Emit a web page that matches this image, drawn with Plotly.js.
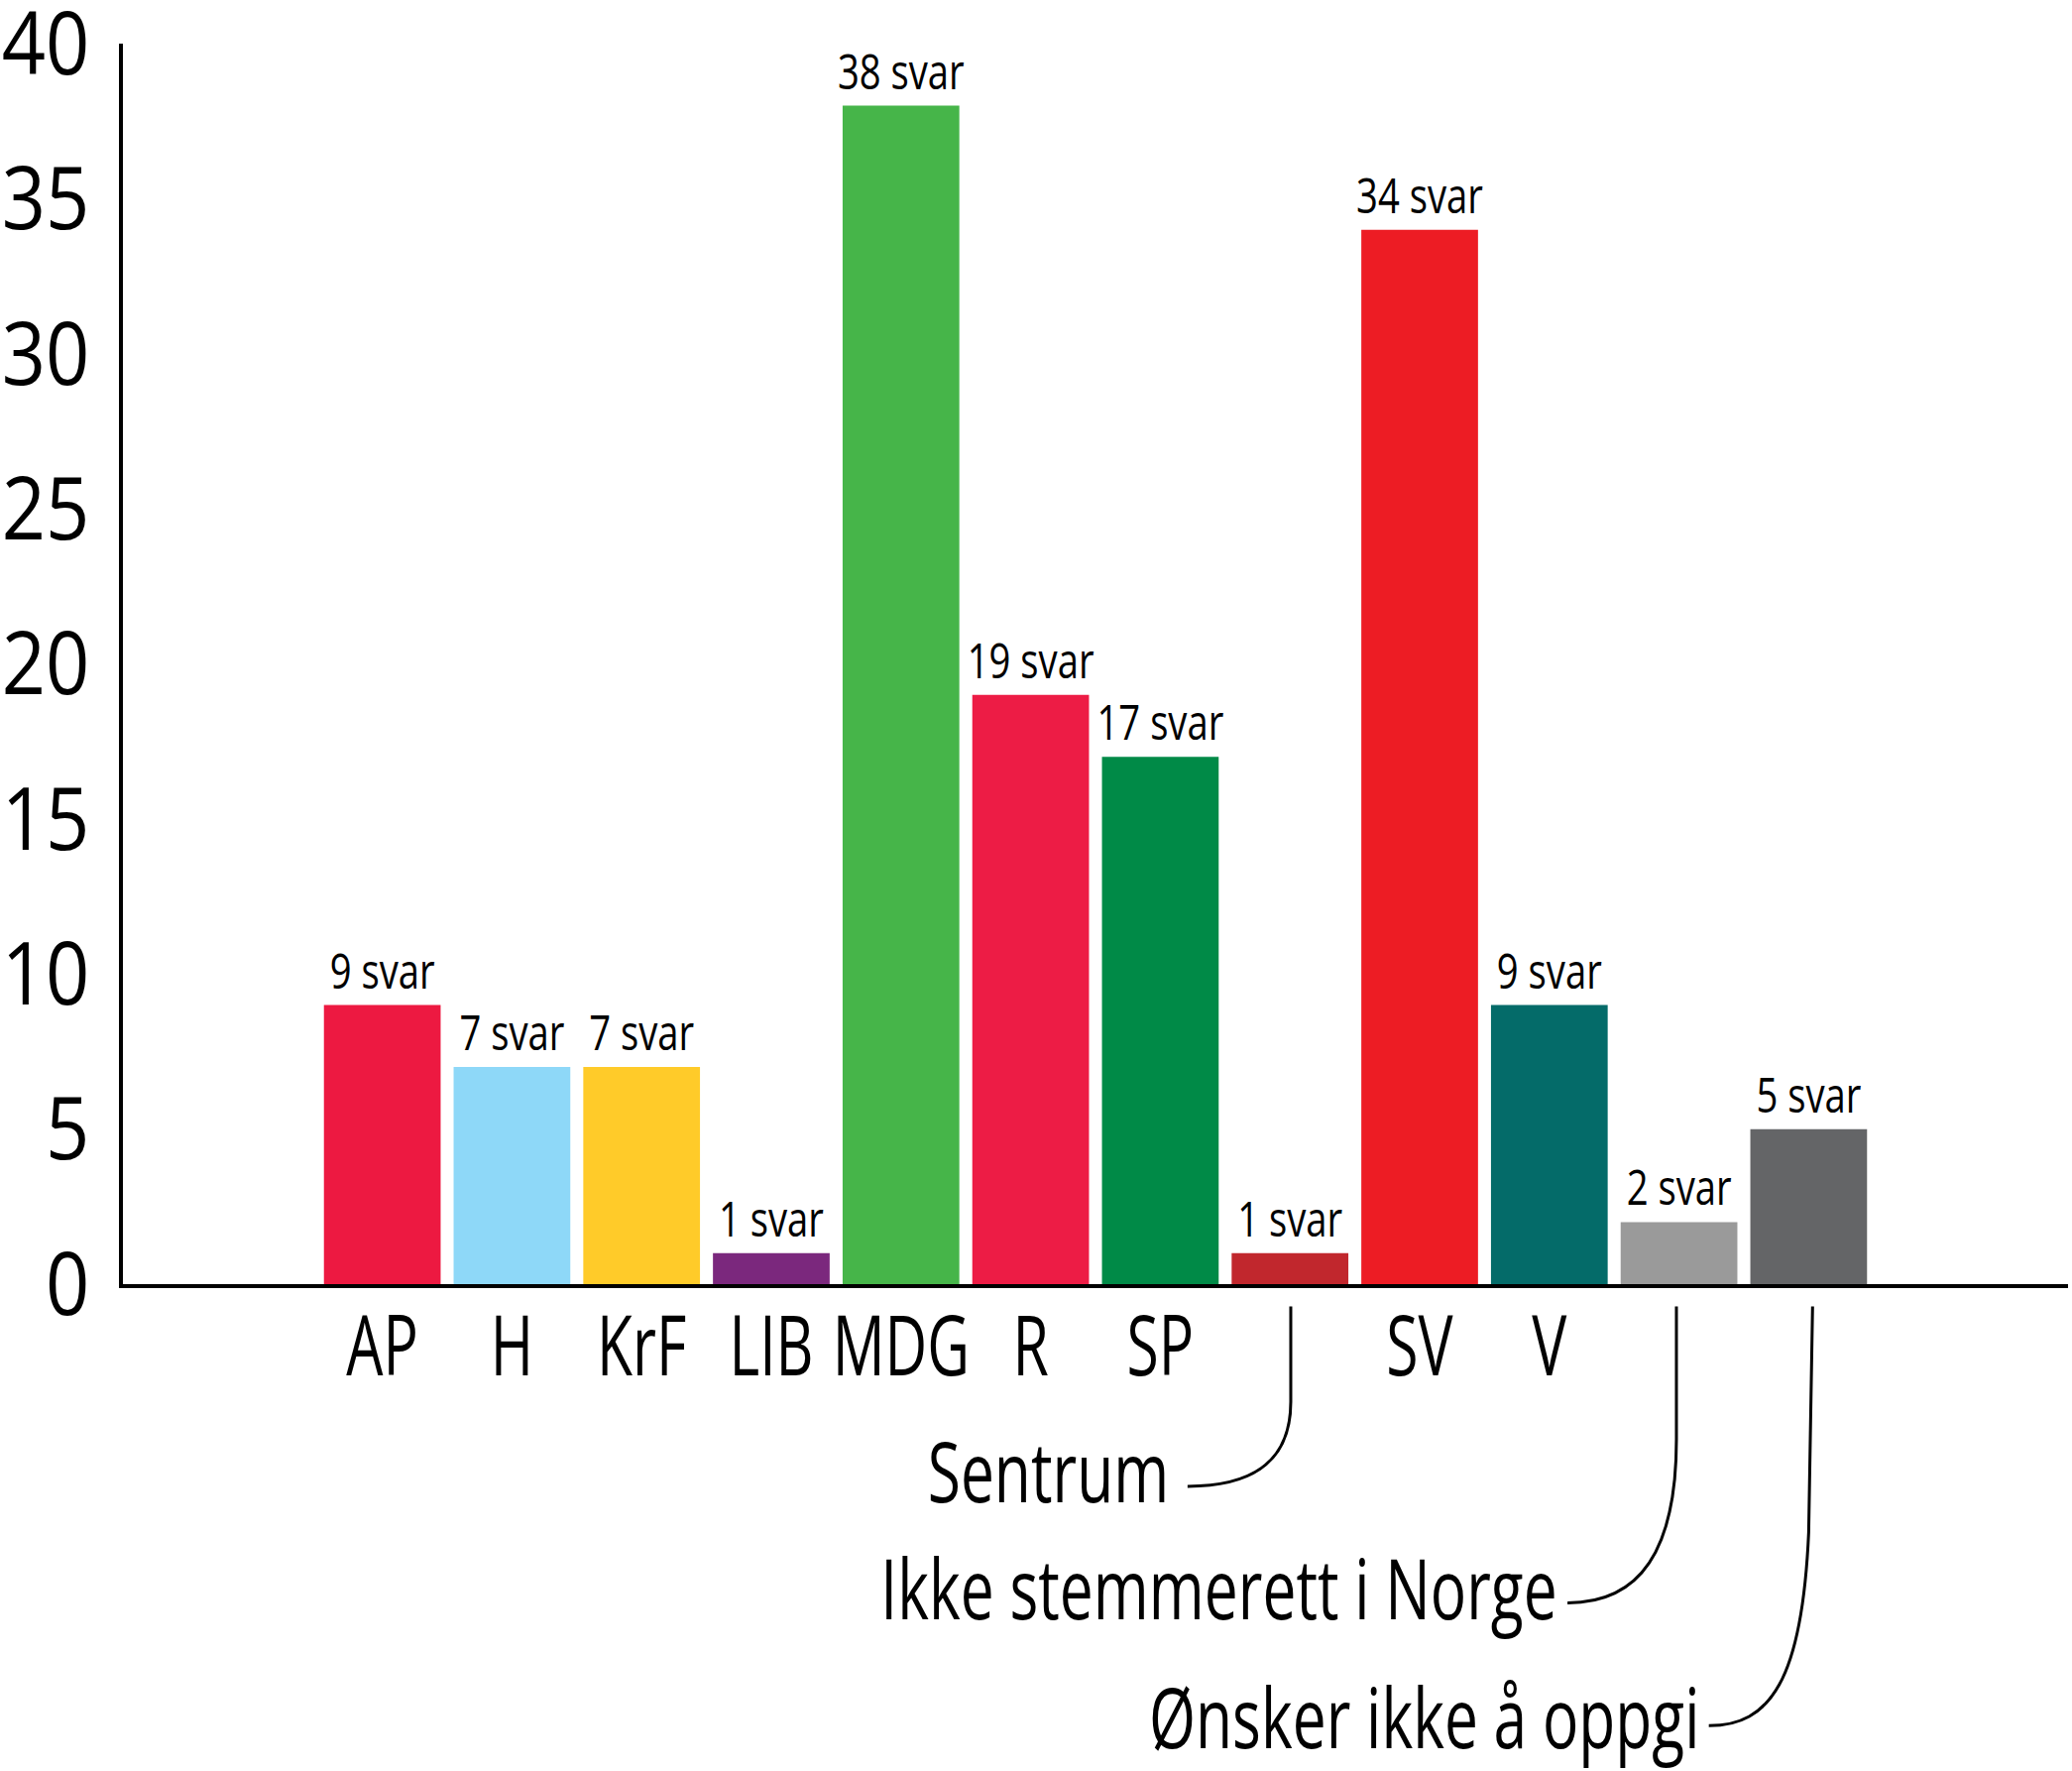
<!DOCTYPE html>
<html>
<head>
<meta charset="utf-8">
<script src="https://cdn.plot.ly/plotly-3.0.1.min.js"></script>
<style>
  body { margin: 0; background: #fff; }
  #chart { width: 2090px; height: 1786px; }
</style>
</head>
<body>
<div id="chart"></div>
<script>
const partier = ['AP', 'H', 'KrF', 'LIB', 'MDG', 'R', 'SP', 'Sentrum', 'SV', 'V',
                 'Ikke stemmerett i Norge', 'Ønsker ikke å oppgi'];
const svar = [9, 7, 7, 1, 38, 19, 17, 1, 34, 9, 2, 5];
const farger = ['#ED1941', '#8ED8F8', '#FFCB29', '#7B287D', '#46B549', '#ED1C45',
                '#008A47', '#C1272D', '#ED1C24', '#046B69', '#9A9A9A', '#646567'];
// kort etikett under stolpen, de lange får egen tekst med strek
const etiketter = ['AP', 'H', 'KrF', 'LIB', 'MDG', 'R', 'SP', '', 'SV', 'V', '', ''];
const yTicks = [0, 5, 10, 15, 20, 25, 30, 35, 40];

const font = '"Open Sans", "Noto Sans", sans-serif';

var stolper = {
    x: partier,
    y: svar,
    type: 'bar',
    marker: {color: farger},
    text: svar.map(v => v + ' svar'),
    textposition: 'outside',
    constraintext: 'none',
    textfont: {family: font, size: 49, color: '#000'},
    cliponaxis: false,
    hoverinfo: 'none'
};

// strek fra stolpen ned til den lange etiketten (x = kategori-indeks, y = paper)
const streker = [
    'M 7.006,-0.018 L 7.006,-0.095 C 7.006,-0.140 6.75,-0.163 6.21,-0.163',
    'M 9.98,-0.018 L 9.98,-0.125 C 9.98,-0.215 9.70,-0.257 9.14,-0.257',
    'M 11.03,-0.018 L 11.00,-0.200 C 10.95,-0.320 10.70,-0.356 10.23,-0.356'
].map(p => ({
    type: 'path', xref: 'x', yref: 'paper', path: p,
    line: {color: '#000', width: 3}
}));

const langTekst = [
    {text: 'Sentrum', x: 6.08, y: -0.150},
    {text: 'Ikke stemmerett i Norge', x: 9.08, y: -0.244},
    {text: 'Ønsker ikke å oppgi', x: 10.17, y: -0.348}
].map(a => ({
    text: a.text, x: a.x, y: a.y, xref: 'x', yref: 'paper',
    xanchor: 'right', yanchor: 'middle', align: 'right', showarrow: false,
    font: {family: font, size: 84, color: '#000'}
}));

var layout = {
    width: 2090,
    height: 1786,
    margin: {l: 124, r: 4, t: 44, b: 491},
    paper_bgcolor: '#fff',
    plot_bgcolor: '#fff',
    showlegend: false,
    bargap: 0.1,
    xaxis: {
        type: 'category',
        range: [-2, 13],
        tickvals: partier,
        ticktext: etiketter,
        tickangle: 0,
        tickfont: {family: font, size: 84, color: '#000'},
        ticks: '',
        ticklabelstandoff: -13,
        ticklabeloverflow: 'allow',
        showgrid: false,
        zeroline: false,
        showline: true,
        linecolor: '#000',
        linewidth: 4
    },
    yaxis: {
        range: [0, 40],
        tickvals: yTicks,
        tickfont: {family: font, size: 88, color: '#000'},
        ticks: '',
        ticklabelstandoff: 12,
        ticklabeloverflow: 'allow',
        showgrid: false,
        zeroline: false,
        showline: true,
        linecolor: '#000',
        linewidth: 4
    },
    shapes: streker,
    annotations: langTekst
};

// originalen bruker en smal skrift, så teksten presses sammen i bredden
function smalTekst(gd, sel, faktor) {
    gd.querySelectorAll(sel).forEach(t => {
        const len = t.getComputedTextLength();
        if (len > 0) {
            t.setAttribute('textLength', len * faktor);
            t.setAttribute('lengthAdjust', 'spacingAndGlyphs');
        }
    });
}

Plotly.newPlot('chart', [stolper], layout, {displayModeBar: false, staticPlot: true}).then(gd => {
    smalTekst(gd, '.xtick text', 0.70);
    smalTekst(gd, '.annotation-text', 0.72);
    smalTekst(gd, '.bartext', 0.78);
    smalTekst(gd, '.ytick text', 0.88);
});
</script>
</body>
</html>
